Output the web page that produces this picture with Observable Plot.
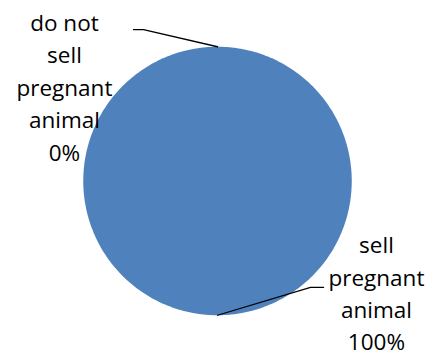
<!DOCTYPE html>
<html>
<head>
<meta charset="utf-8">
<script src="https://cdn.jsdelivr.net/npm/d3@7"></script>
<script src="https://cdn.jsdelivr.net/npm/@observablehq/plot@0.6"></script>
<style>
  html, body { margin: 0; padding: 0; background: #fff; }
</style>
</head>
<body>
<div id="chart"></div>
<script>
// Data
const categories = ["do not sell pregnant animal", "sell pregnant animal"];
const labelLines = [["do not", "sell", "pregnant", "animal"], ["sell", "pregnant", "animal"]];
const values = [0, 100];
const percentLabels = ["0%", "100%"];
const colors = ["#C0504D", "#4F81BD"];

// Label layout (unit-circle coordinates)
const elbowPos = [[-0.551, 1.128], [0.693, -0.793]];
const endPos = [[-0.626, 1.128], [0.790, -0.793]];
const labelPos = [[-1.14, 0.712], [1.184, -0.822]];

const W = 428, H = 352;
const R = 134.25, CX = 217, CY = 180.5;

const total = d3.sum(values);
let acc = 0;
const slices = values.map((v, i) => {
  const a0 = acc / total * 2 * Math.PI;
  acc += v;
  const a1 = acc / total * 2 * Math.PI;
  return {i, a0, a1, mid: (a0 + a1) / 2};
});

// Slice polygons
const polyPts = [];
slices.forEach(s => {
  if (s.a1 - s.a0 <= 0) return;
  const full = s.a1 - s.a0 >= 2 * Math.PI - 1e-9;
  const n = 360;
  if (!full) polyPts.push({k: s.i, x: 0, y: 0});
  for (let j = 0; j <= n; j++) {
    const a = s.a0 + (s.a1 - s.a0) * j / n;
    polyPts.push({k: s.i, x: Math.sin(a), y: Math.cos(a)});
  }
});

// Leader lines
const leaderPts = [];
slices.forEach(s => {
  leaderPts.push({k: s.i, x: Math.sin(s.mid), y: Math.cos(s.mid)});
  leaderPts.push({k: s.i, x: elbowPos[s.i][0], y: elbowPos[s.i][1]});
  leaderPts.push({k: s.i, x: endPos[s.i][0], y: endPos[s.i][1]});
});

const labels = slices.map(s => ({
  x: labelPos[s.i][0], y: labelPos[s.i][1],
  text: labelLines[s.i].concat([percentLabels[s.i]]).join("\n")
}));

const chart = Plot.plot({
  width: W, height: H,
  margin: 0,
  x: {domain: [-CX / R, (W - CX) / R], axis: null},
  y: {domain: [-(H - CY) / R, CY / R], axis: null},
  style: {fontFamily: "'Open Sans', sans-serif", background: "#fff"},
  marks: [
    Plot.line(polyPts, {x: "x", y: "y", z: "k", fill: d => colors[d.k], stroke: "none", curve: "linear"}),
    Plot.line(leaderPts, {x: "x", y: "y", z: "k", stroke: "#000", strokeWidth: 1.3, curve: "linear"}),
    Plot.text(labels, {x: "x", y: "y", text: "text", fontSize: 22.5, lineHeight: 1.44, fill: "#000", textAnchor: "middle"})
  ]
});
document.getElementById("chart").appendChild(chart);
</script>
</body>
</html>
